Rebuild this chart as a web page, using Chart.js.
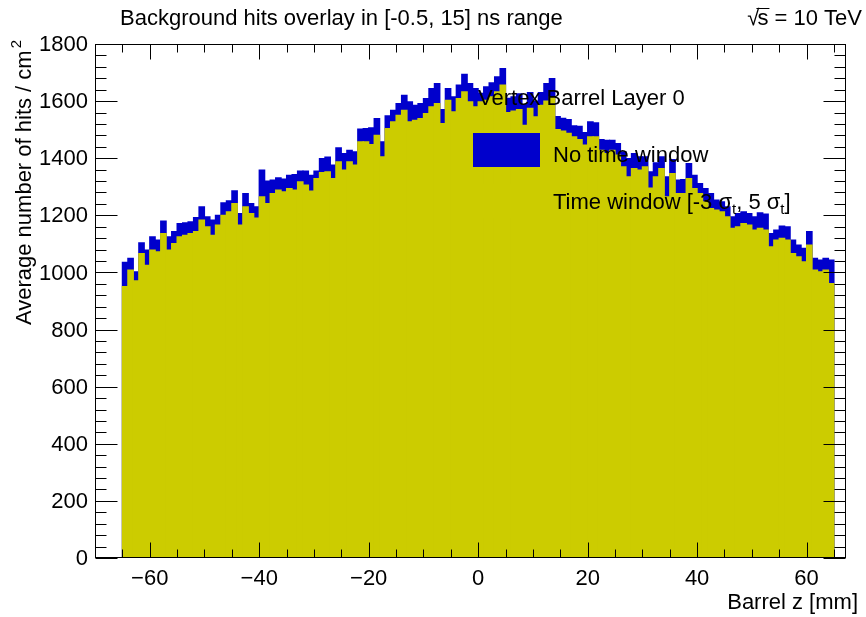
<!DOCTYPE html>
<html>
<head>
<meta charset="utf-8">
<script src="https://cdn.jsdelivr.net/npm/chart.js@4.4.1/dist/chart.umd.min.js"></script>
<style>
  html, body { margin: 0; padding: 0; background: #fff; }
  canvas { display: block; }
</style>
</head>
<body>
<canvas id="barrelCanvas" width="866" height="617"></canvas>
<script>
// histogram binning along the barrel (mm)
const BIN_LOW = -65;
const BIN_WIDTH = 1;

// average hits per cm^2, no timing cut
const noWindowHits = [
  1035, 1049, 1002, 1104, 1078, 1125, 1113, 1180, 1125, 1143,
  1171, 1174, 1177, 1192, 1230, 1195, 1183, 1200, 1244, 1251,
  1286, 1206, 1276, 1241, 1230, 1358, 1320, 1323, 1331, 1327,
  1340, 1343, 1355, 1355, 1340, 1355, 1399, 1404, 1376, 1436,
  1416, 1428, 1422, 1502, 1504, 1506, 1539, 1457, 1548, 1568,
  1591, 1620, 1597, 1585, 1591, 1609, 1644, 1661, 1570, 1644,
  1615, 1656, 1694, 1661, 1644, 1627, 1650, 1664, 1685, 1714,
  1610, 1615, 1625, 1588, 1630, 1600, 1630, 1661, 1679, 1546,
  1540, 1535, 1513, 1512, 1490, 1527, 1524, 1465, 1463, 1463,
  1451, 1422, 1399, 1416, 1405, 1405, 1352, 1384, 1405, 1335,
  1395, 1323, 1325, 1381, 1340, 1311, 1294, 1276, 1253, 1247,
  1230, 1195, 1206, 1212, 1206, 1195, 1209, 1204, 1136, 1148,
  1162, 1160, 1113, 1096, 1084, 1143, 1049, 1043, 1049, 1043
];

// average hits per cm^2 inside [-3 sigma_t, 5 sigma_t]
const timeWindowHits = [
  950, 1008, 971, 1066, 1025, 1078, 1072, 1136, 1078, 1101,
  1125, 1130, 1136, 1143, 1183, 1160, 1130, 1166, 1200, 1212,
  1241, 1166, 1230, 1206, 1190, 1265, 1241, 1276, 1288, 1282,
  1294, 1288, 1317, 1306, 1285, 1329, 1350, 1352, 1329, 1387,
  1358, 1387, 1376, 1457, 1457, 1448, 1480, 1405, 1504, 1527,
  1550, 1568, 1527, 1533, 1539, 1556, 1580, 1591, 1521, 1603,
  1562, 1609, 1632, 1597, 1580, 1597, 1603, 1615, 1632, 1656,
  1560, 1565, 1570, 1515, 1575, 1545, 1585, 1600, 1615, 1500,
  1495, 1487, 1475, 1465, 1446, 1475, 1475, 1428, 1416, 1428,
  1411, 1370, 1335, 1364, 1358, 1370, 1295, 1335, 1364, 1265,
  1346, 1276, 1276, 1329, 1294, 1276, 1247, 1224, 1218, 1212,
  1195, 1154, 1160, 1171, 1166, 1148, 1154, 1148, 1090, 1113,
  1119, 1113, 1066, 1055, 1037, 1096, 1008, 1002, 1008, 961
];

const zCenters = noWindowHits.map((_, i) => BIN_LOW + BIN_WIDTH * (i + 0.5));

const X_MIN = -70;
const X_MAX = 67.2;
const X_MAJOR = 20;
const X_MINOR = 5;
const Y_MAX = 1800;
const Y_MAJOR = 200;
const Y_MINOR = 40;

const FONT = '"Liberation Sans", Arial, Helvetica, sans-serif';
const BLUE = '#0000cc';
const OLIVE = '#cccc00';

const toPoints = vals => vals.map((v, i) => ({ x: zCenters[i], y: v }));

// ROOT-like frame: ticks inside, labels and titles drawn by hand
const rootFrame = {
  id: 'rootFrame',
  afterDatasetsDraw(chart) {
    const { ctx, chartArea: a, scales } = chart;
    const { x, y } = scales;
    const L = Math.round(a.left) + 0.5;
    const R = Math.round(a.right) - 0.5;
    const T = Math.round(a.top) + 0.5;
    const B = Math.round(a.bottom) - 0.5;

    ctx.save();
    ctx.strokeStyle = '#000';
    ctx.lineWidth = 1;
    ctx.strokeRect(L, T, R - L, B - T);

    ctx.beginPath();
    // x ticks, bottom and top
    for (let v = Math.ceil(X_MIN / X_MINOR) * X_MINOR; v <= X_MAX; v += X_MINOR) {
      const px = Math.round(x.getPixelForValue(v)) + 0.5;
      const len = v % X_MAJOR === 0 ? 15 : 8;
      ctx.moveTo(px, B); ctx.lineTo(px, B - len);
      ctx.moveTo(px, T); ctx.lineTo(px, T + len);
    }
    // y ticks, left and right
    for (let v = 0; v <= Y_MAX; v += Y_MINOR) {
      const py = Math.round(y.getPixelForValue(v)) + 0.5;
      const len = v % Y_MAJOR === 0 ? 22 : 11;
      ctx.moveTo(L, py); ctx.lineTo(L + len, py);
      ctx.moveTo(R, py); ctx.lineTo(R - len, py);
    }
    ctx.stroke();

    ctx.fillStyle = '#000';
    ctx.font = '22px ' + FONT;

    // x tick labels
    ctx.textAlign = 'center';
    ctx.textBaseline = 'alphabetic';
    for (let v = Math.ceil(X_MIN / X_MAJOR) * X_MAJOR; v <= X_MAX; v += X_MAJOR) {
      const txt = v < 0 ? '\u2212' + Math.abs(v) : String(v);
      ctx.fillText(txt, x.getPixelForValue(v), 585);
    }

    // y tick labels
    ctx.textAlign = 'right';
    ctx.textBaseline = 'middle';
    for (let v = 0; v <= Y_MAX; v += Y_MAJOR) {
      ctx.fillText(String(v), 88, y.getPixelForValue(v) + 1);
    }

    // x axis title
    ctx.textAlign = 'right';
    ctx.textBaseline = 'alphabetic';
    ctx.fillText('Barrel z [mm]', 858, 609);

    // y axis title, rotated, pinned to the top end
    ctx.save();
    ctx.translate(31, 40);
    ctx.rotate(-Math.PI / 2);
    ctx.font = '15px ' + FONT;
    const supW = ctx.measureText('2').width;
    ctx.textAlign = 'right';
    ctx.fillText('2', 0, -10);
    ctx.font = '22px ' + FONT;
    ctx.fillText('Average number of hits / cm', -supW - 2, 0);
    ctx.restore();

    // title and energy label
    ctx.textAlign = 'left';
    ctx.fillText('Background hits overlay in [-0.5, 15] ns range', 120, 25);
    const rhs = ' = 10 TeV';
    const rhsW = ctx.measureText(rhs).width;
    const sW = ctx.measureText('s').width;
    const rootW = ctx.measureText('\u221A').width;
    const sx = 862 - rhsW - sW;
    ctx.fillText(rhs, 862 - rhsW, 25);
    ctx.fillText('s', sx, 25);
    ctx.fillText('\u221A', sx - rootW + 2, 25);
    ctx.beginPath();
    ctx.moveTo(sx - 1, 8.5);
    ctx.lineTo(sx + sW + 1, 8.5);
    ctx.stroke();

    // legend
    const lx = 553;
    ctx.fillText('Vertex Barrel Layer 0', 478, 105);
    ctx.fillStyle = BLUE;
    ctx.fillRect(473, 133, 67, 34);
    ctx.fillStyle = OLIVE;
    ctx.fillRect(473, 184, 67, 34);
    ctx.fillStyle = '#000';
    ctx.fillText('No time window', lx, 162);

    let cx = lx;
    const base = 209;
    const part = (txt, font, dy) => {
      ctx.font = font;
      ctx.fillText(txt, cx, base + dy);
      cx += ctx.measureText(txt).width;
    };
    const big = '22px ' + FONT;
    const sub = '15px ' + FONT;
    part('Time window [-3 ', big, 0);
    part('\u03C3', big, 0);
    part('t', sub, 5);
    part(', 5 ', big, 0);
    part('\u03C3', big, 0);
    part('t', sub, 5);
    part(']', big, 0);

    ctx.restore();
  }
};

new Chart(document.getElementById('barrelCanvas'), {
  type: 'bar',
  data: {
    datasets: [
      {
        label: 'Time window [-3 \u03C3t, 5 \u03C3t]',
        data: toPoints(timeWindowHits),
        backgroundColor: OLIVE,
        order: 0
      },
      {
        label: 'No time window',
        data: toPoints(noWindowHits),
        backgroundColor: BLUE,
        order: 1
      }
    ]
  },
  options: {
    responsive: false,
    animation: false,
    devicePixelRatio: 1,
    layout: { padding: { top: 44, right: 20, left: 0, bottom: 0 } },
    datasets: {
      bar: {
        grouped: false,
        barPercentage: 1,
        categoryPercentage: 1,
        borderWidth: 0,
        inflateAmount: 0.6
      }
    },
    plugins: {
      legend: { display: false },
      tooltip: { enabled: false },
      title: { display: false }
    },
    scales: {
      x: {
        type: 'linear',
        offset: false,
        min: X_MIN,
        max: X_MAX,
        ticks: { display: false, stepSize: X_MAJOR },
        grid: { display: false, offset: false },
        border: { display: false },
        afterFit(s) { s.height = 59; }
      },
      y: {
        min: 0,
        max: Y_MAX,
        ticks: { display: false, stepSize: Y_MAJOR },
        grid: { display: false },
        border: { display: false },
        afterFit(s) { s.width = 95; }
      }
    }
  },
  plugins: [rootFrame]
});
</script>
</body>
</html>
